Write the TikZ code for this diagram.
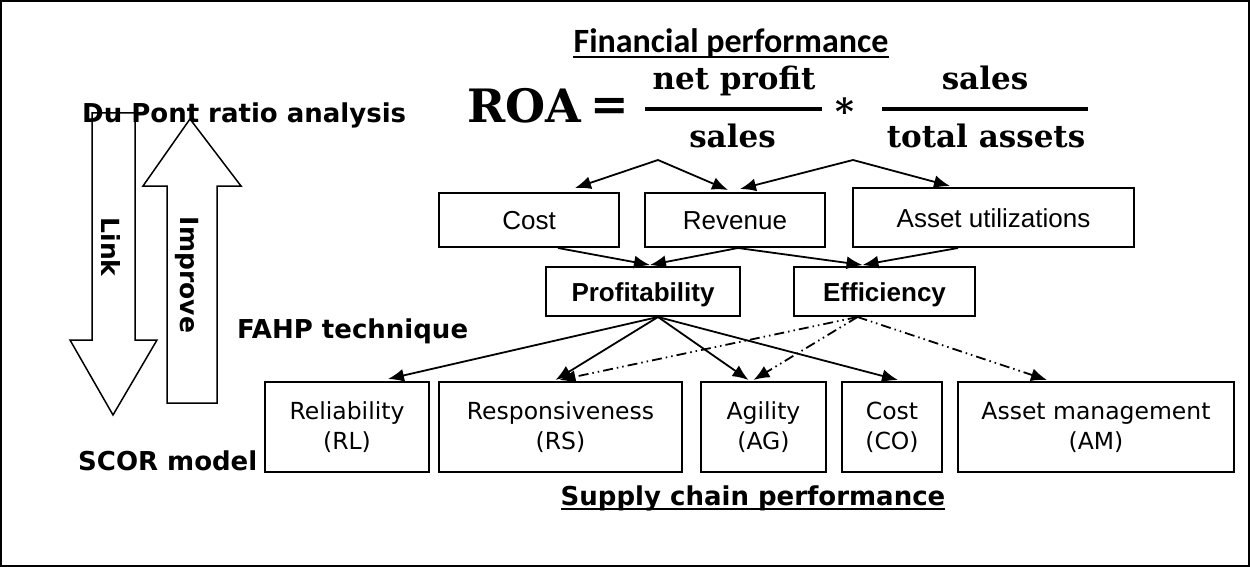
\documentclass[tikz,border=0pt]{standalone}
\usepackage{fontspec}
\setmainfont{DejaVu Sans}
\newfontfamily\dvs{DejaVu Sans}
\newfontfamily\dvserif{DejaVu Serif}
\newfontfamily\lsans{Liberation Sans}
\newfontfamily\carl{Carlito}
\usetikzlibrary{arrows.meta}
\begin{document}
\begin{tikzpicture}[x=1pt,y=-1pt,
 lbl/.style={font=\dvs\bfseries\fontsize{26}{30}\selectfont, inner sep=0pt, anchor=base west},
 midbox/.style={draw, line width=2pt, inner sep=0pt, font=\lsans\fontsize{26}{30}\selectfont, text height=19pt, text depth=0pt},
 botbox/.style={draw, line width=2pt, inner sep=0pt, align=center, font=\dvs\fontsize{23.5}{30}\selectfont, minimum height=90pt},
 frm/.style={font=\dvserif\bfseries\fontsize{31}{36}\selectfont, inner sep=0pt, anchor=base},
 conn/.style={line width=1.8pt, -{Latex[length=16pt,width=13pt]}},
 dconn/.style={conn, dash pattern=on 10pt off 4pt on 1.5pt off 4pt on 1.5pt off 4pt},
 bigarrow/.style={line width=1.5pt, line join=miter},
 rotlbl/.style={font=\dvs\bfseries\fontsize{25}{30}\selectfont, rotate=-90, inner sep=0pt}
]
\useasboundingbox (0,0) rectangle (1250,567);
\draw[line width=2pt] (1,1) rectangle (1249,566);

% big arrows
\draw[bigarrow] (92,113) -- (135,113) -- (135,340) -- (157,340) -- (113,415) -- (70,340) -- (92,340) -- cycle;
\draw[bigarrow] (167,403) -- (217,403) -- (217,186) -- (241,186) -- (190,119) -- (143,186) -- (167,186) -- cycle;
\node[rotlbl] (link) at (111,247) {Link};
\node[rotlbl] (impr) at (187,275) {Improve};

% left labels
\node[lbl] (dupont) at (82,123) {Du Pont ratio analysis};
\node[lbl] (fahp) at (237,338) {FAHP technique};
\node[lbl] (scor) at (78,470) {SCOR model};

% title
\node[font=\carl\bfseries\fontsize{34}{38}\selectfont, inner sep=0pt, anchor=base] (fp) at (731,53) {Financial performance};
\draw[line width=2pt] ([yshift=-4pt]fp.base west) -- ([yshift=-4pt]fp.base east);

% formula
\node[font=\dvserif\bfseries\fontsize{46}{54}\selectfont, inner sep=0pt, anchor=base west] (roa) at (467,123) {ROA};
\node[font=\dvserif\bfseries\fontsize{46}{54}\selectfont, inner sep=0pt] (eq) at (610,109) {=};
\node[frm] (n1) at (734,90) {net profit};
\node[frm] (d1) at (732.5,148) {sales};
\node[font=\dvserif\bfseries\fontsize{36}{40}\selectfont, inner sep=0pt] (ast) at (845,111) {*};
\node[frm] (n2) at (985,90) {sales};
\node[frm] (d2) at (986,148) {total assets};
\draw[line width=4pt] (645,109) -- (822,109);
\draw[line width=4pt] (882,109) -- (1088,109);
\coordinate (forkL) at (658,160);
\coordinate (forkR) at (853,160);

% middle boxes
\node[midbox, minimum width=180pt, minimum height=54pt] (cost) at (529,220) {Cost};
\node[midbox, minimum width=180pt, minimum height=54pt] (rev) at (735,220) {Revenue};
\node[midbox, minimum width=281pt, minimum height=59pt] (asset) at (993.5,217.5) {Asset utilizations};
\node[midbox, font=\lsans\bfseries\fontsize{26}{30}\selectfont, minimum width=194pt, minimum height=49pt] (prof) at (643,291.5) {Profitability};
\node[midbox, font=\lsans\bfseries\fontsize{26}{30}\selectfont, minimum width=181pt, minimum height=49pt] (eff) at (884.5,291.5) {Efficiency};

% bottom boxes
\node[botbox, minimum width=164pt] (rl) at (347,427) {Reliability\\(RL)};
\node[botbox, minimum width=243pt] (rs) at (560.5,427) {Responsiveness\\(RS)};
\node[botbox, minimum width=125pt] (ag) at (763.5,427) {Agility\\(AG)};
\node[botbox, minimum width=100pt] (co) at (892,427) {Cost\\(CO)};
\node[botbox, minimum width=276pt] (am) at (1096,427) {Asset management\\(AM)};

\node[lbl, anchor=base] (scp) at (753,505) {Supply chain performance};
\draw[line width=2pt] ([yshift=-4pt]scp.base west) -- ([yshift=-4pt]scp.base east);

% connectors top
\draw[conn] (forkL) -- ([xshift=46pt,yshift=4pt]cost.north);
\draw[conn] (forkL) -- ([xshift=-7pt,yshift=2pt]rev.north);
\draw[conn] (forkR) -- ([xshift=5pt,yshift=3pt]rev.north);
\draw[conn] (forkR) -- ([xshift=-43.5pt,yshift=1pt]asset.north);
\draw[conn] ([xshift=29pt]cost.south) -- ([xshift=7pt,yshift=1pt]prof.north);
\draw[conn] ([xshift=3pt]rev.south) -- ([xshift=7pt,yshift=1pt]prof.north);
\draw[conn] ([xshift=3pt]rev.south) -- ([xshift=-22pt,yshift=1pt]eff.north);
\draw[conn] ([xshift=-35.5pt]asset.south) -- ([xshift=-22pt,yshift=1pt]eff.north);

% connectors bottom
\draw[conn] ([xshift=15pt]prof.south) -- ([xshift=41pt,yshift=2pt]rl.north);
\draw[conn] ([xshift=15pt]prof.south) -- ([xshift=-5pt,yshift=1pt]rs.north);
\draw[conn] ([xshift=15pt]prof.south) -- ([xshift=-15pt,yshift=1pt]ag.north);
\draw[conn] ([xshift=15pt]prof.south) -- ([xshift=6pt,yshift=1pt]co.north);
\draw[dconn] ([xshift=-27pt]eff.south) -- ([xshift=-1pt,yshift=1pt]rs.north);
\draw[dconn] ([xshift=-27pt]eff.south) -- ([xshift=-10pt,yshift=1pt]ag.north);
\draw[dconn] ([xshift=-27pt]eff.south) -- ([xshift=-49pt,yshift=1pt]am.north);
\end{tikzpicture}
\end{document}
